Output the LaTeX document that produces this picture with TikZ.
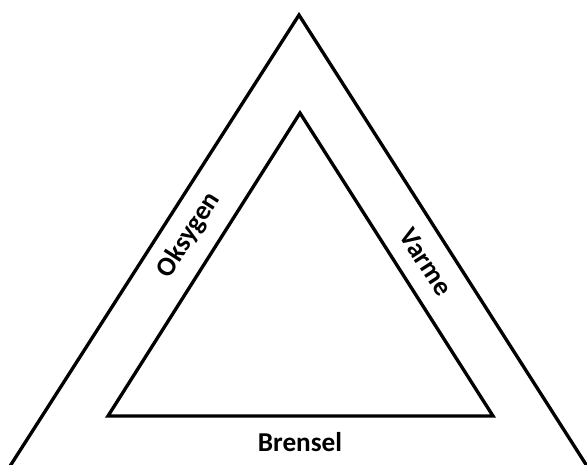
\documentclass[tikz,border=0pt]{standalone}
\usepackage{fontspec}
\setsansfont{Carlito}
\tikzset{
  side/.style={draw=black, line width=1.9pt, line join=miter},
  label/.style={font=\sffamily\bfseries\fontsize{15.5}{18}\selectfont, inner sep=0pt}
}

\begin{document}
\begin{tikzpicture}[x=0.02cm, y=-0.02cm]
  \useasboundingbox (0,0) rectangle (587,465);
  \clip (0,0) rectangle (587,465);

  % outer triangle (its base lies below the picture)
  \coordinate (otop) at (299,15);
  \coordinate (oleft) at (-4,488);
  \coordinate (oright) at (601,488);
  \draw[side] (oleft) -- (otop) -- (oright);

  % inner triangle
  \coordinate (itop) at (300,113);
  \coordinate (ileft) at (108,416);
  \coordinate (iright) at (493,416);
  \draw[side] (itop) -- (ileft) -- (iright) -- cycle;

  \node[label, rotate=57.4] (oksygen) at (189,235) {Oksygen};
  \node[label, rotate=-57.4] (varme) at (426,262) {Varme};
  \node[label] (brensel) at (300,442) {Brensel};
\end{tikzpicture}
\end{document}
